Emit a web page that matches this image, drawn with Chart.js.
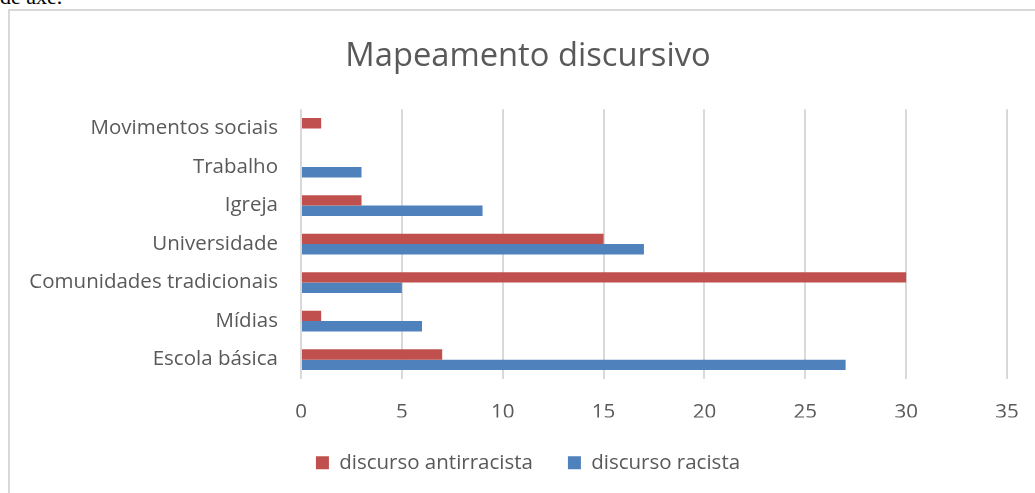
<!DOCTYPE html>
<html><head><meta charset="utf-8">
<script src="https://cdn.jsdelivr.net/npm/chart.js@4"></script>
<style>
html,body{margin:0;padding:0;width:1035px;height:493px;overflow:hidden;background:#fff;}
#top{position:absolute;left:0;top:-15px;font-family:"Liberation Serif",serif;font-size:22px;line-height:24px;color:#000;white-space:nowrap;}
#frame{position:absolute;left:8px;top:9px;width:1100px;height:600px;border-left:2px solid #d9d9d9;border-top:2px solid #d9d9d9;}
#wrap{position:absolute;left:9px;top:0;width:1038px;height:493px;}
</style></head>
<body>
<div id="top">de axe.</div>
<div id="frame"></div>
<div id="wrap"><canvas id="c" width="1038" height="493"></canvas></div>
<script>
const categories = ["Movimentos sociais","Trabalho","Igreja","Universidade","Comunidades tradicionais","Mídias","Escola básica"];
const antirracista = [1,0,3,15,30,1,7];
const racista = [0,3,9,17,5,6,27];
const xTicks = [0,5,10,15,20,25,30,35];
const seriesNames = ["discurso antirracista","discurso racista"];

const FONT = "'Open Sans', sans-serif";
const GREY = "#595959";
const FS = 20.5;

new Chart(document.getElementById('c'), {
  type: 'bar',
  data: {
    labels: categories,
    datasets: [
      {label: seriesNames[0], data: antirracista, backgroundColor: '#C0504D', borderWidth: 0, categoryPercentage: 0.54, barPercentage: 1.0},
      {label: seriesNames[1], data: racista, backgroundColor: '#4F81BD', borderWidth: 0, categoryPercentage: 0.54, barPercentage: 1.0}
    ]
  },
  options: {
    indexAxis: 'y',
    responsive: false,
    animation: false,
    layout: {padding: {left: 0, right: 0, top: 0, bottom: 10}},
    plugins: {
      title: {display: true, text: 'Mapeamento discursivo', color: GREY,
        font: {family: FONT, size: 32.7, weight: 'normal'}, padding: {top: 37, bottom: 33}},
      legend: {position: 'bottom', labels: {color: GREY, font: {family: FONT, size: FS}, boxWidth: 13, boxHeight: 13, padding: 35}},
      tooltip: {enabled: false}
    },
    scales: {
      x: {
        min: 0, max: 35,
        afterBuildTicks: (s) => { s.ticks = xTicks.map(v => ({value: v})); },
        afterFit: (s) => { s.height = s.height - 28; },
        ticks: {color: GREY, font: {family: FONT, size: FS}, padding: 21},
        grid: {color: '#d9d9d9', lineWidth: 2, drawTicks: false},
        border: {display: false}
      },
      y: {
        afterFit: (s) => { s.width = 292; },
        ticks: {color: GREY, font: {family: FONT, size: FS}, padding: 23},
        grid: {display: false, drawTicks: false},
        border: {display: false}
      },
      yRight: {
        type: 'linear', position: 'right', display: true,
        afterFit: (s) => { s.width = 40; },
        ticks: {display: false},
        grid: {display: false, drawTicks: false},
        border: {display: false}
      }
    }
  }
});
</script>
</body></html>
